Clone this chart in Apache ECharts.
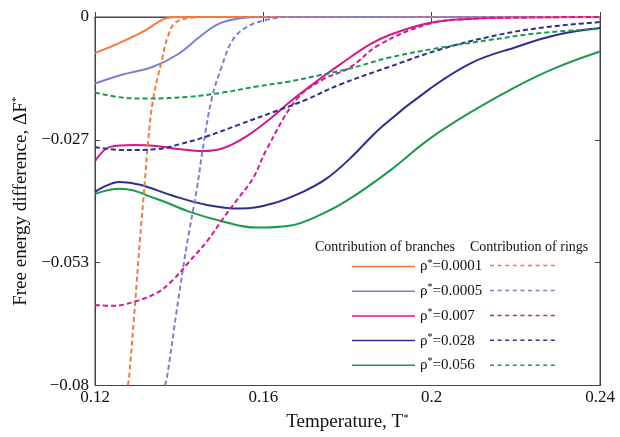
<!DOCTYPE html>
<html><head><meta charset="utf-8">
<script src="https://cdn.jsdelivr.net/npm/echarts@6/dist/echarts.min.js"></script>
<style>html,body{margin:0;padding:0;background:#fff}#c{width:620px;height:437px}</style>
</head><body><div id="c"></div>
<script>
// Data: [T*, ΔF*]
const densities = ['0.0001', '0.0005', '0.007', '0.028', '0.056'];
const branches0001 = [[0.12,-0.0078],[0.1259,-0.0056],[0.1314,-0.0032],[0.1347,-0.0013],[0.1371,-0.0002],[0.1402,0],[0.24,0]];
const rings0001 = [[0.1278,-0.08],[0.1281,-0.0783],[0.1295,-0.0625],[0.1307,-0.0481],[0.1319,-0.0351],[0.1326,-0.0272],[0.1338,-0.0179],[0.1359,-0.0093],[0.1373,-0.0043],[0.1390,-0.0013],[0.1425,-0.0002],[0.146,0],[0.24,0]];
const branches0005 = [[0.12,-0.01445],[0.1266,-0.0125],[0.1338,-0.0108],[0.1395,-0.0082],[0.1449,-0.0043],[0.1489,-0.0017],[0.1537,-0.0004],[0.1584,0],[0.24,0]];
const rings0005 = [[0.1366,-0.08],[0.1371,-0.0783],[0.1394,-0.0638],[0.1418,-0.0496],[0.1442,-0.0373],[0.1456,-0.0287],[0.1477,-0.0179],[0.1501,-0.0108],[0.1527,-0.0050],[0.1560,-0.0022],[0.1608,-0.0006],[0.1662,0],[0.24,0]];
const branches007 = [[0.12,-0.0313],[0.1236,-0.0282],[0.1290,-0.0278],[0.1347,-0.0280],[0.1402,-0.0287],[0.1456,-0.0291],[0.1504,-0.0285],[0.1560,-0.0259],[0.1615,-0.0222],[0.1662,-0.0185],[0.1726,-0.0140],[0.1781,-0.0104],[0.1852,-0.0060],[0.1900,-0.0039],[0.1994,-0.0013],[0.2096,-0.0004],[0.2215,-0.0001],[0.24,0]];
const rings007 = [[0.12,-0.0625],[0.1243,-0.0627],[0.1290,-0.0619],[0.1347,-0.0599],[0.1385,-0.0571],[0.1425,-0.0530],[0.1466,-0.0487],[0.1504,-0.0438],[0.1539,-0.0395],[0.1575,-0.0351],[0.1608,-0.0287],[0.1679,-0.0179],[0.1741,-0.0136],[0.1805,-0.0110],[0.1876,-0.0060],[0.1994,-0.0015],[0.2096,-0.0004],[0.2215,-0.0001],[0.24,0]];
const branches028 = [[0.12,-0.0380],[0.1259,-0.0358],[0.1307,-0.0364],[0.1385,-0.0388],[0.1466,-0.0408],[0.1544,-0.0416],[0.1622,-0.0405],[0.1693,-0.0380],[0.1750,-0.0351],[0.1805,-0.0308],[0.1883,-0.0237],[0.1994,-0.0157],[0.2096,-0.0099],[0.2201,-0.0065],[0.2296,-0.0039],[0.24,-0.0024]];
const rings028 = [[0.12,-0.0282],[0.1266,-0.0289],[0.1347,-0.0287],[0.1402,-0.0276],[0.1466,-0.0259],[0.1544,-0.0233],[0.1622,-0.0207],[0.1703,-0.0179],[0.1781,-0.0147],[0.1900,-0.0108],[0.2018,-0.0071],[0.2137,-0.0043],[0.2255,-0.0024],[0.24,-0.0011]];
const branches056 = [[0.12,-0.0384],[0.1259,-0.0373],[0.1347,-0.0395],[0.1425,-0.0423],[0.1504,-0.0444],[0.1584,-0.0457],[0.1662,-0.0453],[0.1741,-0.0427],[0.1805,-0.0395],[0.1900,-0.0334],[0.1994,-0.0265],[0.2096,-0.0205],[0.2201,-0.0151],[0.2296,-0.0110],[0.24,-0.0075]];
const rings056 = [[0.12,-0.0164],[0.1266,-0.0175],[0.1323,-0.0177],[0.1425,-0.0173],[0.1504,-0.0164],[0.1584,-0.0151],[0.1662,-0.0140],[0.1741,-0.0125],[0.1805,-0.0112],[0.1900,-0.0088],[0.2018,-0.0067],[0.2137,-0.0050],[0.2255,-0.0035],[0.24,-0.0026]];
const xTicks = [0.12, 0.16, 0.2, 0.24];
const yTicks = [-0.08, -0.053, -0.027, 0];

const colors = ['#f4793b', '#7c80d4', '#d21a8e', '#2c2f8e', '#1b9a4e'];
const branchData = [branches0001, branches0005, branches007, branches028, branches056];
const ringData = [rings0001, rings0005, rings007, rings028, rings056];
const FONT = 'Liberation Serif';

const series = [];
densities.forEach((d, i) => {
  series.push({
    name: 'ρ*=' + d, type: 'line', data: branchData[i], symbol: 'none',
    smooth: 0.4, clip: true,
    lineStyle: {color: colors[i], width: 2, type: 'solid'}, itemStyle: {color: colors[i]}
  });
});
densities.forEach((d, i) => {
  series.push({
    name: 'rings ' + d, type: 'line', data: ringData[i], symbol: 'none',
    smooth: 0.4, clip: true,
    lineStyle: {color: colors[i], width: 2, type: [5, 3]}, itemStyle: {color: colors[i]}
  });
});

function yFmt(v) {
  if (Math.abs(v) < 1e-9) return '0';
  let s = Math.abs(v).toFixed(3).replace(/0+$/, '');
  return (v < 0 ? '\u2212' : '') + s;
}

// legend icons (solid and dashed strokes)
const solidIcon = 'path://M0,0h63v1.5h-63z';
let dashPath = 'path://';
for (let k = 0; k < 9; k++) dashPath += 'M' + (k * 7.6).toFixed(1) + ',0h4v1.5h-4z';

const legendRich = {
  a: {fontFamily: FONT, fontSize: 15, color: '#111', lineHeight: 17},
  s: {fontFamily: FONT, fontSize: 10, color: '#111', lineHeight: 17, verticalAlign: 'top'}
};

const chart = echarts.init(document.getElementById('c'), null, {renderer: 'canvas'});
chart.setOption({
  animation: false,
  backgroundColor: '#fff',
  textStyle: {fontFamily: FONT},
  grid: {left: 95, right: 20, top: 17, bottom: 49, show: true, borderColor: '#444', borderWidth: 1, backgroundColor: 'transparent'},
  title: [
    {text: 'Contribution of branches', left: 310, top: 235, textStyle: {fontFamily: FONT, fontSize: 14, fontWeight: 'normal', color: '#111'}},
    {text: 'Contribution of rings', left: 465, top: 235, textStyle: {fontFamily: FONT, fontSize: 14, fontWeight: 'normal', color: '#111'}}
  ],
  legend: [
    {
      data: densities.map(d => 'ρ*=' + d), orient: 'vertical', left: 347, top: 253,
      itemWidth: 63, itemHeight: 1.5, itemGap: 8.7, icon: solidIcon,
      formatter: n => '{a|ρ}{s|*}{a|=' + n.slice(3) + '}',
      textStyle: {fontFamily: FONT, fontSize: 15, color: '#111', rich: legendRich}
    },
    {
      data: densities.map(d => 'rings ' + d), orient: 'vertical', left: 485, top: 253,
      itemWidth: 65, itemHeight: 1.5, itemGap: 9.95, icon: dashPath,
      formatter: () => '{a| }',
      textStyle: {fontFamily: FONT, fontSize: 15, color: '#111', rich: legendRich}
    }
  ],
  xAxis: [
    {type: 'value', min: 0.12, max: 0.24, interval: 0.04, position: 'bottom',
     name: 'Temperature, T{s|*}', nameLocation: 'middle', nameGap: 27,
     nameTextStyle: {fontFamily: FONT, fontSize: 19, color: '#111', rich: {s: {fontFamily: FONT, fontSize: 11, color: '#111', verticalAlign: 'bottom', padding: [0, 0, 9, 0]}}},
     axisLine: {show: true, lineStyle: {color: '#444'}},
     axisTick: {inside: true, length: 5, lineStyle: {color: '#444'}},
     axisLabel: {fontFamily: FONT, fontSize: 17, color: '#111', margin: 4, formatter: v => String(+v.toFixed(2))},
     splitLine: {show: false}},
    {type: 'value', min: 0.12, max: 0.24, interval: 0.04, position: 'top',
     axisLine: {show: true, lineStyle: {color: '#444'}},
     axisTick: {inside: true, length: 5, lineStyle: {color: '#444'}},
     axisLabel: {show: false}, splitLine: {show: false}}
  ],
  yAxis: [
    {type: 'value', min: -0.08, max: 0, interval: 0.08 / 3, position: 'left',
     name: 'Free energy difference, ΔF{s|*}', nameLocation: 'middle', nameGap: 64, nameRotate: 90,
     nameTextStyle: {fontFamily: FONT, fontSize: 19, color: '#111', rich: {s: {fontFamily: FONT, fontSize: 11, color: '#111', verticalAlign: 'bottom', padding: [0, 0, 9, 0]}}},
     axisLine: {show: true, lineStyle: {color: '#444'}},
     axisTick: {inside: true, length: 5, lineStyle: {color: '#444'}},
     axisLabel: {fontFamily: FONT, fontSize: 17, color: '#111', margin: 6, formatter: yFmt},
     splitLine: {show: false}},
    {type: 'value', min: -0.08, max: 0, interval: 0.08 / 3, position: 'right',
     axisLine: {show: true, lineStyle: {color: '#444'}},
     axisTick: {inside: true, length: 5, lineStyle: {color: '#444'}},
     axisLabel: {show: false}, splitLine: {show: false}}
  ],
  series: series
});
</script></body></html>
